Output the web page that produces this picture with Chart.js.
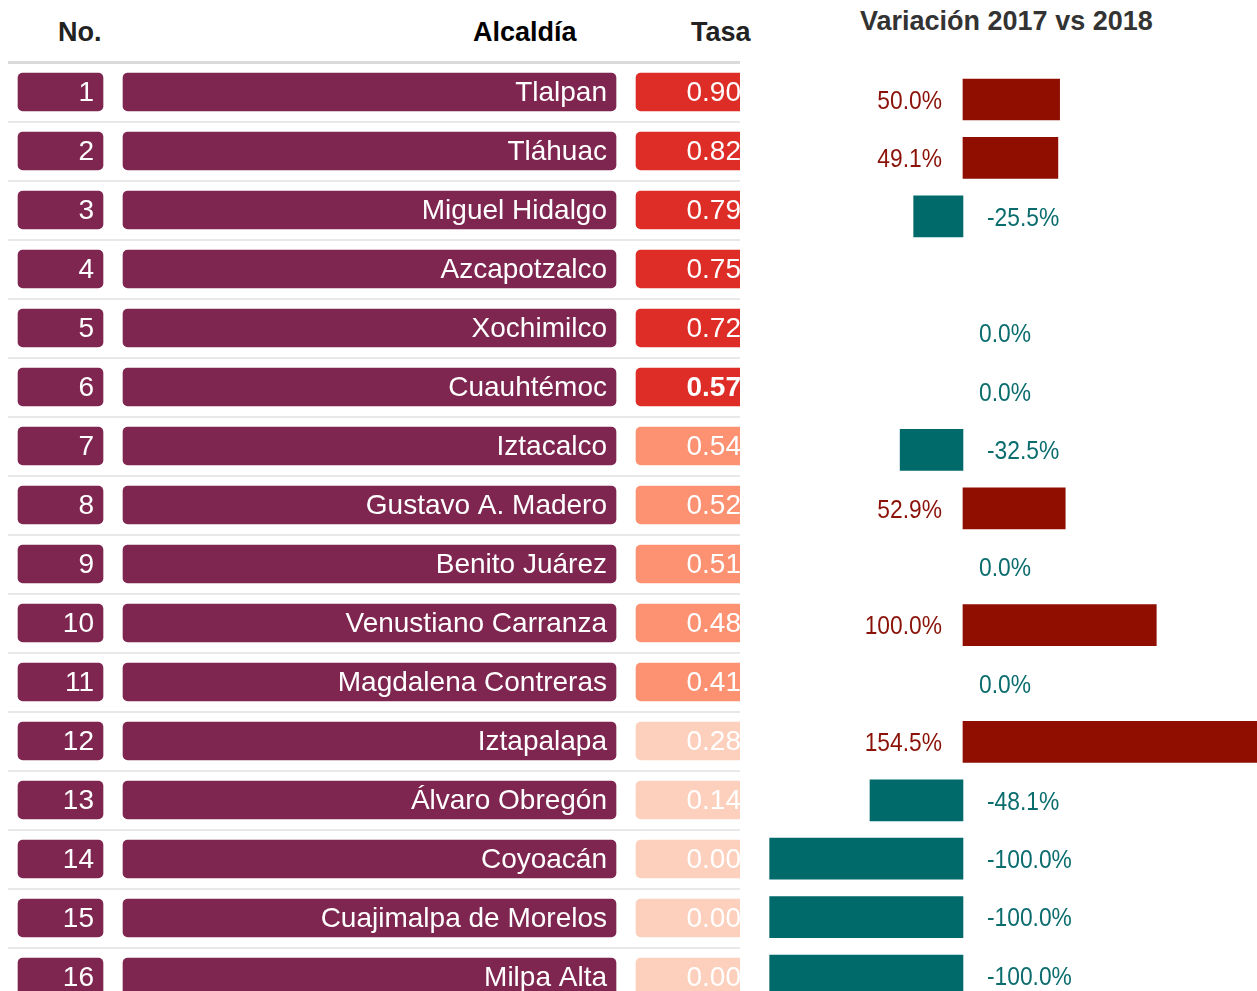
<!DOCTYPE html>
<html>
<head>
<meta charset="utf-8">
<script src="https://cdn.jsdelivr.net/npm/chart.js@4"></script>
<style>
  html, body { margin: 0; padding: 0; background: #fff; overflow: hidden; width: 1257px; height: 991px; }
  .wrap { position: absolute; top: 0; }
  .head { position: absolute; font-family: "Liberation Sans", Arial, sans-serif; font-weight: bold; font-size: 27px; line-height: 30px; white-space: nowrap; }
</style>
</head>
<body>
<div class="head" style="left:58px; top:17px; color:#222;">No.</div>
<div class="head" style="left:473px; top:17px; color:#000;">Alcaldía</div>
<div class="head" style="left:691px; top:17px; color:#222;">Tasa</div>
<div class="head" style="left:860px; top:6px; color:#333;">Variación 2017 vs 2018</div>

<div class="wrap" style="left:0; width:740px; height:1010px;">
  <canvas id="tabla" width="740" height="1010"></canvas>
</div>
<div class="wrap" style="left:760px; width:497px; height:1010px;">
  <canvas id="variacion" width="497" height="1010"></canvas>
</div>

<script>
// datos
const numeros = [1, 2, 3, 4, 5, 6, 7, 8, 9, 10, 11, 12, 13, 14, 15, 16];
const alcaldias = ['Tlalpan', 'Tláhuac', 'Miguel Hidalgo', 'Azcapotzalco', 'Xochimilco',
  'Cuauhtémoc', 'Iztacalco', 'Gustavo A. Madero', 'Benito Juárez', 'Venustiano Carranza',
  'Magdalena Contreras', 'Iztapalapa', 'Álvaro Obregón', 'Coyoacán', 'Cuajimalpa de Morelos', 'Milpa Alta'];
const tasa = [0.90, 0.82, 0.79, 0.75, 0.72, 0.57, 0.54, 0.52, 0.51, 0.48, 0.41, 0.28, 0.14, 0.00, 0.00, 0.00];
// variación 2017 vs 2018 (%), null = sin dato
const variacion = [50.0, 49.1, -25.5, null, 0.0, 0.0, -32.5, 52.9, 0.0, 100.0, 0.0, 154.5, -48.1, -100.0, -100.0, -100.0];

// columnas de la tabla (px dentro del área del gráfico)
const colNo = [10, 95];
const colNombre = [115, 608];
const colTasa = [628, 742];

const MORADO = '#7e2650';
const ROJO = '#8f0e00';
const VERDE = '#006a6b';

function colorTasa(v) {
  if (v >= 0.57) return '#de2d27';
  if (v >= 0.41) return '#fc9272';
  return '#fcd0bc';
}

const textoCeldas = {
  id: 'textoCeldas',
  afterDatasetsDraw(chart) {
    const c = chart.ctx;
    c.save();
    c.textAlign = 'right';
    c.textBaseline = 'middle';
    c.fillStyle = '#fff';
    const textos = [numeros.map(String), alcaldias, tasa.map(v => v.toFixed(2))];
    chart.data.datasets.forEach((ds, d) => {
      chart.getDatasetMeta(d).data.forEach((bar, i) => {
        const bold = d === 2 && alcaldias[i] === 'Cuauhtémoc';
        c.font = (bold ? 'bold ' : '') + '28px "Liberation Sans", Arial, sans-serif';
        c.fillText(textos[d][i], bar.x - 9, bar.y + 1);
      });
    });
    c.restore();
  }
};

new Chart(document.getElementById('tabla'), {
  type: 'bar',
  data: {
    labels: alcaldias,
    datasets: [
      { data: numeros.map(() => colNo), backgroundColor: MORADO },
      { data: alcaldias.map(() => colNombre), backgroundColor: MORADO },
      { data: tasa.map(() => colTasa), backgroundColor: tasa.map(colorTasa) }
    ]
  },
  options: {
    indexAxis: 'y',
    responsive: false,
    animation: false,
    events: [],
    layout: { padding: { left: 8, right: 0, top: 62.5, bottom: 3.5 } },
    datasets: { bar: { grouped: false, barThickness: 38, borderRadius: 5, borderSkipped: false } },
    plugins: { legend: { display: false }, tooltip: { enabled: false } },
    scales: {
      x: { type: 'linear', min: 0, max: 732, display: false },
      y: {
        type: 'category',
        ticks: { display: false, padding: 0 },
        border: { display: false },
        grid: {
          offset: true,
          drawTicks: false,
          color: ctx => ctx.index === 0 ? '#dadada' : '#e8e8e8',
          lineWidth: ctx => ctx.index === 0 ? 3 : 2
        }
      }
    }
  },
  plugins: [textoCeldas]
});

// etiquetas en letra angosta: Liberation Sans comprimida horizontalmente
const etiquetasVar = {
  id: 'etiquetasVar',
  afterDatasetsDraw(chart) {
    const c = chart.ctx;
    const cero = chart.scales.x.getPixelForValue(0);
    const k = 0.86;
    chart.getDatasetMeta(0).data.forEach((bar, i) => {
      const v = variacion[i];
      if (v === null) return;
      const txt = v.toFixed(1) + '%';
      let x, align;
      if (v > 0) {
        c.fillStyle = '#8b1208';
        align = 'right';
        x = cero - 21;
      } else {
        c.fillStyle = '#0b6c6e';
        align = 'left';
        x = cero + (v === 0 ? 16 : 24);
      }
      c.save();
      c.textBaseline = 'middle';
      c.textAlign = align;
      c.font = '26.5px "Liberation Sans", Arial, sans-serif';
      c.translate(x, bar.y + 2);
      c.scale(k, 1);
      c.fillText(txt, 0, 0);
      c.restore();
    });
  }
};

new Chart(document.getElementById('variacion'), {
  type: 'bar',
  data: {
    labels: alcaldias,
    datasets: [{
      data: variacion,
      backgroundColor: variacion.map(v => v > 0 ? ROJO : (v < 0 ? VERDE : 'rgba(0,0,0,0)')),
      barThickness: 41
    }]
  },
  options: {
    indexAxis: 'y',
    responsive: false,
    animation: false,
    events: [],
    layout: { padding: { left: 0, right: 0, top: 70.3, bottom: 5.3 } },
    plugins: { legend: { display: false }, tooltip: { enabled: false } },
    scales: {
      x: { type: 'linear', min: -105, max: 152.1, display: false },
      y: { type: 'category', display: false }
    }
  },
  plugins: [etiquetasVar]
});
</script>
</body>
</html>
